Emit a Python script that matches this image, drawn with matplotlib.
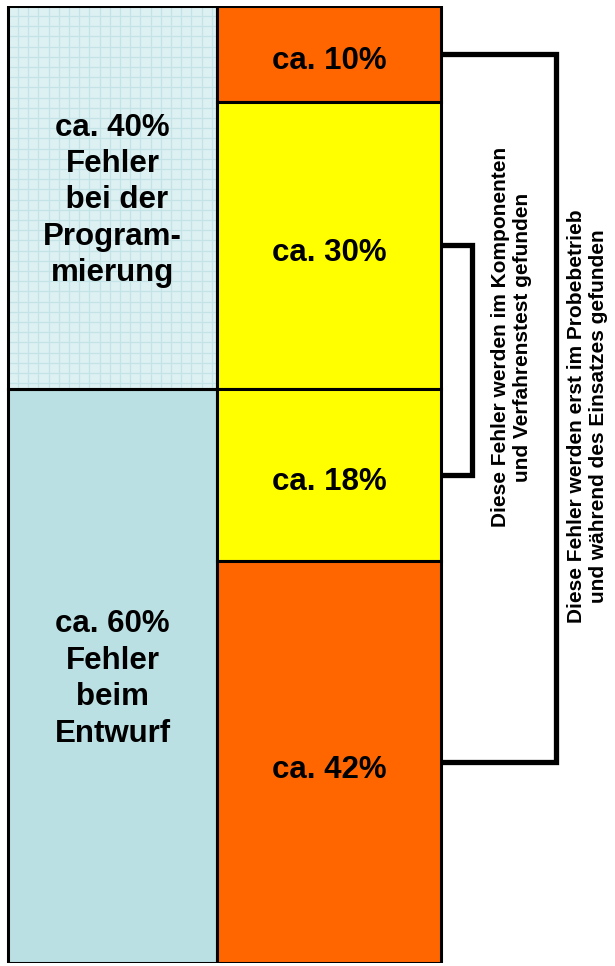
import matplotlib
matplotlib.use("Agg")
import matplotlib.pyplot as plt
import numpy as np

plt.rcParams["font.family"] = ["Liberation Sans", "DejaVu Sans"]

# left column: where the errors come from
left_values = [40, 60]
left_labels = ["ca. 40%\nFehler\n bei der\nProgram-\nmierung",
               "ca. 60%\nFehler\nbeim\nEntwurf"]
left_colors = ["#ddf0f2", "#bbe0e3"]

# right column: when they are found
right_values = [10, 30, 18, 42]
right_labels = ["ca. 10%", "ca. 30%", "ca. 18%", "ca. 42%"]
right_colors = ["#ff6600", "#ffff00", "#ffff00", "#ff6600"]

note_inner = "Diese Fehler werden im Komponenten\nund Verfahrenstest gefunden"
note_outer = "Diese Fehler werden erst im Probebetrieb\nund während des Einsatzes gefunden"

W, H = 615, 966
fig = plt.figure(figsize=(W / 100, H / 100), dpi=100)
# y axis runs 0..100 % over the stacked columns, x in pixels
ax = fig.add_axes([0, 3 / H, 1, 957 / H])
ax.set_xlim(0, W)
ax.set_ylim(100, 0)
ax.axis("off")

lx0, lx1 = 8, 217
rx0, rx1 = 217, 441
px = 100 / 957  # one pixel in % units

# left column
bottoms = np.concatenate([[0], np.cumsum(left_values)[:-1]])
for i, (v, b, lab, c) in enumerate(zip(left_values, bottoms, left_labels, left_colors)):
    ax.bar((lx0 + lx1) / 2, v, bottom=b, width=lx1 - lx0, color=c,
           edgecolor="none", zorder=1)
    if i == 0:
        # grid paper look, ~10 px squares
        gx = np.arange(lx0 + 10, lx1, 10.2)
        gy = np.arange(b + 10 * px, b + v, 10.2 * px)
        ax.vlines(gx, b, b + v, color="#c4e3e6", lw=0.9, zorder=2)
        ax.hlines(gy, lx0, lx1, color="#c4e3e6", lw=0.9, zorder=2)
    ax.bar((lx0 + lx1) / 2, v, bottom=b, width=lx1 - lx0,
           facecolor="none", edgecolor="black", linewidth=2.2, zorder=3)
    ax.text((lx0 + lx1) / 2, b + v / 2 + 3 * px, lab, ha="center", va="center",
            fontsize=22.5, fontweight="bold", linespacing=1.28, zorder=4)

# right column
bottoms = np.concatenate([[0], np.cumsum(right_values)[:-1]])
mids = bottoms + np.array(right_values) / 2
for v, b, lab, c in zip(right_values, bottoms, right_labels, right_colors):
    ax.bar((rx0 + rx1) / 2, v, bottom=b, width=rx1 - rx0, color=c,
           edgecolor="black", linewidth=2.2, zorder=3)
    ax.text((rx0 + rx1) / 2, b + v / 2 + 4 * px, lab, ha="center",
            va="center_baseline", fontsize=22.5, fontweight="bold", zorder=4)

# brackets
inner_x, outer_x = 472, 556
ax.plot([rx1, inner_x, inner_x, rx1], [mids[1], mids[1], mids[2], mids[2]],
        color="black", lw=3.8, solid_joinstyle="miter")
ax.plot([rx1, outer_x, outer_x, rx1], [mids[0], mids[0], mids[3], mids[3]],
        color="black", lw=3.8, solid_joinstyle="miter")

ax.text(511, 34.6, note_inner, rotation=90, ha="center", va="center",
        fontsize=15, fontweight="bold", linespacing=1.2, multialignment="center")
ax.text(588, 42.9, note_outer, rotation=90, ha="center", va="center",
        fontsize=15, fontweight="bold", linespacing=1.2, multialignment="center")

fig.savefig("out.png", dpi=100)
